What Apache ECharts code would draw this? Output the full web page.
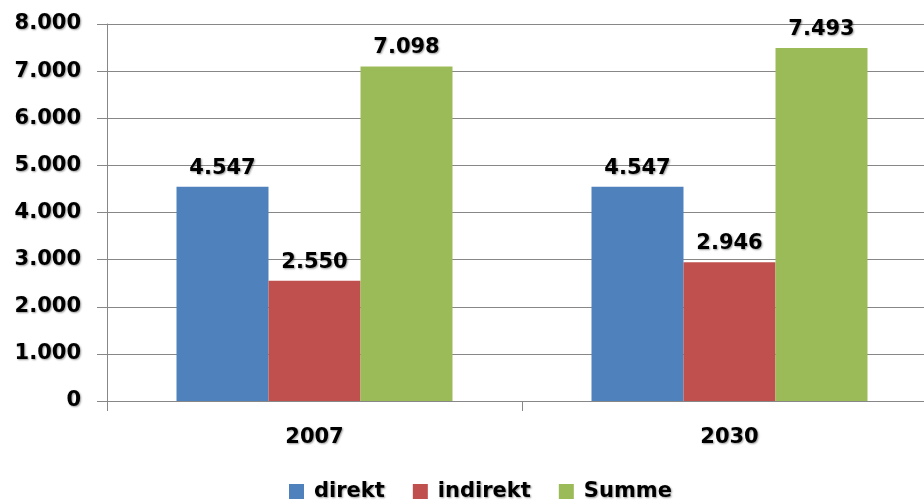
<!DOCTYPE html>
<html>
<head>
<meta charset="utf-8">
<script src="https://cdn.jsdelivr.net/npm/echarts@6/dist/echarts.min.js"></script>
<style>
  html, body { margin: 0; padding: 0; background: #fff; overflow: hidden; }
  /* plot area runs past the right edge in the original, so the canvas is a bit wider than the window */
  #chart { width: 937px; height: 500px; }
</style>
</head>
<body>
<div id="chart"></div>
<script>
// data
const categories = ['2007', '2030'];
const direkt = [4547, 4547];
const indirekt = [2550, 2946];
const summe = [7098, 7493];

const fmt = v => String(v).replace(/\B(?=(\d{3})+(?!\d))/g, '.');

const textBase = {
  fontFamily: 'DejaVu Sans, Verdana, sans-serif',
  fontWeight: 'bold',
  fontSize: 21,
  color: '#000',
  textShadowColor: 'rgba(0,0,0,0.4)',
  textShadowBlur: 2,
  textShadowOffsetX: 1,
  textShadowOffsetY: 1
};

const chart = echarts.init(document.getElementById('chart'));

const mkSeries = (name, data, color) => ({
  name: name,
  type: 'bar',
  data: data,
  barWidth: 92,
  barGap: '0%',
  itemStyle: { color: color },
  label: Object.assign({
    show: true,
    position: 'top',
    distance: 8,
    formatter: p => fmt(p.value)
  }, textBase)
});

chart.setOption({
  animation: false,
  grid: { left: 107, top: 24, right: 0, bottom: 99 },
  legend: {
    top: 476,
    left: 284,
    itemWidth: 15,
    itemHeight: 15,
    itemGap: 28,
    icon: 'rect',
    textStyle: Object.assign({ padding: [0, 0, 0, 5] }, textBase),
    data: ['direkt', 'indirekt', 'Summe']
  },
  xAxis: {
    type: 'category',
    data: categories,
    axisLine: { lineStyle: { color: '#878787', width: 1 } },
    axisTick: { show: true, length: 10, lineStyle: { color: '#878787' } },
    axisLabel: Object.assign({ margin: 26 }, textBase)
  },
  yAxis: {
    type: 'value',
    min: 0,
    max: 8000,
    interval: 1000,
    axisLine: { show: true, lineStyle: { color: '#878787', width: 1 } },
    axisTick: { show: true, length: 10, lineStyle: { color: '#878787' } },
    splitLine: { lineStyle: { color: '#878787', width: 1 } },
    axisLabel: Object.assign({ margin: 26, formatter: v => fmt(v) }, textBase)
  },
  series: [
    mkSeries('direkt', direkt, '#4F81BD'),
    mkSeries('indirekt', indirekt, '#C0504D'),
    mkSeries('Summe', summe, '#9BBB59')
  ]
});
</script>
</body>
</html>
